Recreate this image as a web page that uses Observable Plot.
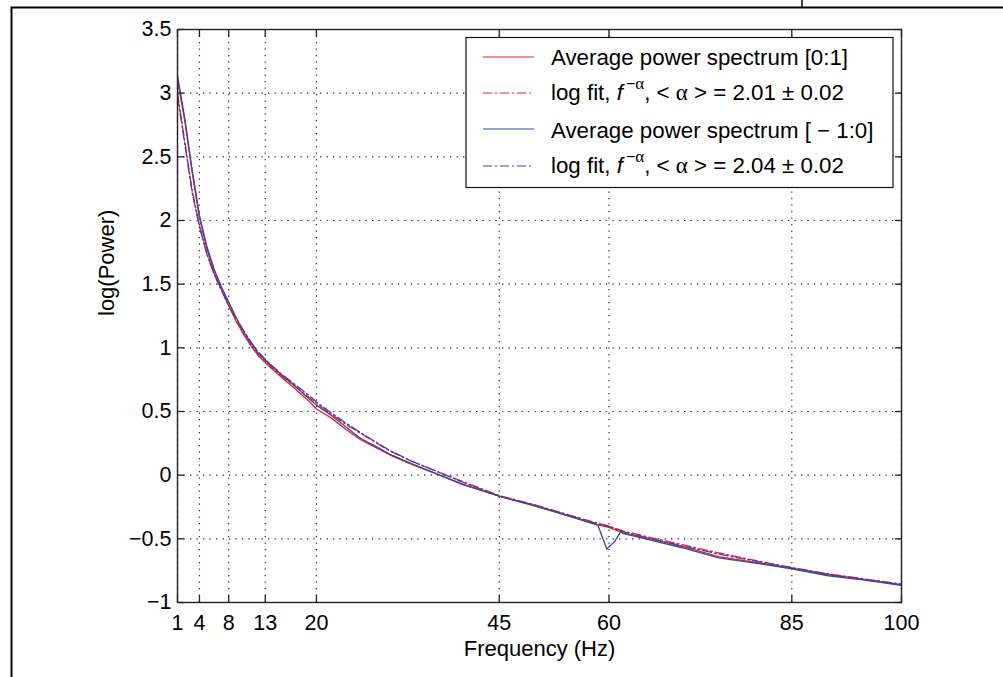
<!DOCTYPE html>
<html><head><meta charset="utf-8">
<script src="https://cdn.jsdelivr.net/npm/d3@7"></script>
<script src="https://cdn.jsdelivr.net/npm/@observablehq/plot@0.6"></script>
<style>
body{margin:0;background:#fff;}
#wrap{position:relative;width:1003px;height:677px;overflow:hidden;background:#fff;}
</style></head><body><div id="wrap"></div>
<script>
// ---- data ----
const freq = [1,2,3,4,5,6,7,8,9,10,11,12,13,14,15,16,17,18,19,20,22,24,26,28,30,33,36,40,45,50,55,58,60,62,65,70,75,80,85,90,95,100];
const redSpectrum = [3.10,2.78,2.38,2.02,1.78,1.60,1.46,1.33,1.21,1.11,1.02,0.94,0.885,0.83,0.78,0.73,0.685,0.63,0.58,0.52,0.45,0.36,0.28,0.22,0.16,0.085,0.02,-0.07,-0.165,-0.24,-0.33,-0.385,-0.41,-0.455,-0.49,-0.56,-0.64,-0.685,-0.73,-0.78,-0.82,-0.86];
const redFit = [3.00,2.62,2.24,1.96,1.74,1.58,1.45,1.33,1.22,1.12,1.03,0.955,0.895,0.84,0.79,0.745,0.70,0.655,0.61,0.565,0.48,0.40,0.33,0.26,0.19,0.11,0.04,-0.05,-0.16,-0.235,-0.32,-0.37,-0.40,-0.44,-0.48,-0.545,-0.61,-0.67,-0.725,-0.775,-0.815,-0.855];
const blueFreq = [1,2,3,4,5,6,7,8,9,10,11,12,13,14,15,16,17,18,19,20,22,24,26,28,30,33,36,40,45,50,55,58,58.5,59.7,60.8,61.6,62,65,70,75,80,85,90,95,100];
const blueSpectrum = [3.14,2.80,2.40,2.04,1.80,1.62,1.48,1.36,1.24,1.13,1.04,0.96,0.905,0.85,0.80,0.75,0.705,0.65,0.60,0.55,0.47,0.38,0.29,0.23,0.165,0.09,0.02,-0.075,-0.165,-0.245,-0.33,-0.38,-0.395,-0.58,-0.52,-0.445,-0.46,-0.50,-0.57,-0.65,-0.69,-0.735,-0.79,-0.825,-0.865];
const blueFit = [2.97,2.60,2.22,1.95,1.74,1.58,1.46,1.34,1.235,1.14,1.05,0.97,0.91,0.855,0.805,0.76,0.715,0.67,0.625,0.575,0.49,0.41,0.335,0.265,0.195,0.11,0.04,-0.055,-0.165,-0.24,-0.325,-0.375,-0.405,-0.445,-0.49,-0.555,-0.62,-0.675,-0.73,-0.78,-0.82,-0.86];
const xTicks = [1,4,8,13,20,45,60,85,100];
const yTicks = [-1,-0.5,0,0.5,1,1.5,2,2.5,3,3.5];
const xLabel = "Frequency (Hz)";
const yLabel = "log(Power)";
const legendSpectrumLabels = ["Average power spectrum [0:1]", "Average power spectrum [ \u2212 1:0]"];
const legendAlphas = ["2.01", "2.04"];
const legendErr = "0.02";

// ---- styling ----
const RED = "#ee1c25", BLUE = "#3548a4";
const FONT = "'Liberation Sans', Arial, Helvetica, sans-serif";
const DASHDOT = "9,3,2,3";

const tbl = (xs, ys) => xs.map((f, i) => ({f, v: ys[i]}));
const fmtY = d => d < 0 ? "\u2212" + Math.abs(d) : String(d);

const chart = Plot.plot({
  width: 1003, height: 677,
  marginLeft: 177, marginRight: 102, marginTop: 29, marginBottom: 75,
  style: {fontFamily: FONT, fontSize: "21.5px", color: "#000", background: "transparent"},
  x: {domain: [1, 100]},
  y: {domain: [-1, 3.5]},
  marks: [
    Plot.gridX(xTicks, {stroke: "#000", strokeOpacity: 0.85, strokeDasharray: "1.3,5.2", strokeWidth: 1.2}),
    Plot.gridY(yTicks, {stroke: "#000", strokeOpacity: 0.85, strokeDasharray: "1.3,5.2", strokeWidth: 1.2}),
    Plot.line(tbl(freq, redSpectrum), {x: "f", y: "v", stroke: RED, strokeWidth: 1.3, clip: true}),
    Plot.line(tbl(freq, redFit), {x: "f", y: "v", stroke: RED, strokeWidth: 1.3, strokeDasharray: DASHDOT, clip: true}),
    Plot.line(tbl(blueFreq, blueSpectrum), {x: "f", y: "v", stroke: BLUE, strokeWidth: 1.3, clip: true}),
    Plot.line(tbl(freq, blueFit), {x: "f", y: "v", stroke: BLUE, strokeWidth: 1.3, strokeDasharray: DASHDOT, clip: true}),
    Plot.frame({stroke: "#222", strokeWidth: 1.4}),
    Plot.axisX(xTicks, {anchor: "bottom", tickSize: -7, tickPadding: 19, label: null, stroke: "#222", strokeWidth: 1.3}),
    Plot.axisX(xTicks, {anchor: "top", tickSize: -7, fill: "none", label: null, stroke: "#222", strokeWidth: 1.3}),
    Plot.axisY(yTicks, {anchor: "left", tickSize: -7, tickPadding: 13, label: null, tickFormat: fmtY, stroke: "#222", strokeWidth: 1.3}),
    Plot.axisY(yTicks, {anchor: "right", tickSize: -7, fill: "none", label: null, stroke: "#222", strokeWidth: 1.3}),
    Plot.text([xLabel], {frameAnchor: "bottom", dy: 53, fontSize: 22, fill: "#000"}),
    Plot.text([yLabel], {frameAnchor: "left", dx: -71, rotate: -90, fontSize: 22, fill: "#000"})
  ]
});
const wrap = document.getElementById("wrap");
wrap.appendChild(chart);

// ---- overlay: outer page frame and legend ----
const ov = d3.select(wrap).append("svg")
  .attr("width", 1003).attr("height", 677)
  .style("position", "absolute").style("left", "0px").style("top", "0px")
  .style("font-family", FONT);

ov.append("path").attr("d", "M11.5,677 V7.5 H1003").attr("fill", "none").attr("stroke", "#000").attr("stroke-width", 2);
ov.append("line").attr("x1", 802).attr("x2", 802).attr("y1", 0).attr("y2", 7).attr("stroke", "#000").attr("stroke-width", 1.5);

const lg = ov.append("g");
lg.append("rect").attr("x", 466).attr("y", 37.5).attr("width", 427).attr("height", 150)
  .attr("fill", "#fff").attr("stroke", "#111").attr("stroke-width", 1.2);

const rows = [
  {color: RED, dash: null, kind: "spec", label: legendSpectrumLabels[0], ly: 57, ty: 65},
  {color: RED, dash: DASHDOT, kind: "fit", alpha: legendAlphas[0], ly: 93, ty: 100},
  {color: BLUE, dash: null, kind: "spec", label: legendSpectrumLabels[1], ly: 129, ty: 138},
  {color: BLUE, dash: DASHDOT, kind: "fit", alpha: legendAlphas[1], ly: 166, ty: 173}
];
rows.forEach(r => {
  lg.append("line").attr("x1", 483).attr("x2", 534).attr("y1", r.ly).attr("y2", r.ly)
    .attr("stroke", r.color).attr("stroke-width", 1.2).attr("stroke-dasharray", r.dash);
  const t = lg.append("text").attr("x", 551).attr("y", r.ty).attr("font-size", 22.3).attr("fill", "#000");
  if (r.kind === "spec") {
    t.text(r.label);
  } else {
    t.append("tspan").text("log fit, ");
    t.append("tspan").attr("font-style", "italic").text("f");
    t.append("tspan").attr("font-size", 16).attr("dy", -11).attr("dx", 3).text("\u2212");
    t.append("tspan").attr("font-size", 17).attr("font-family", "'Liberation Serif', 'DejaVu Serif', serif").text("\u03b1");
    t.append("tspan").attr("dy", 11).text(", < ");
    t.append("tspan").attr("font-family", "'Liberation Serif', 'DejaVu Serif', serif").attr("font-size", 23).text("\u03b1");
    t.append("tspan").text(" > = " + r.alpha + " \u00b1 " + legendErr);
  }
});
</script>
</body></html>
